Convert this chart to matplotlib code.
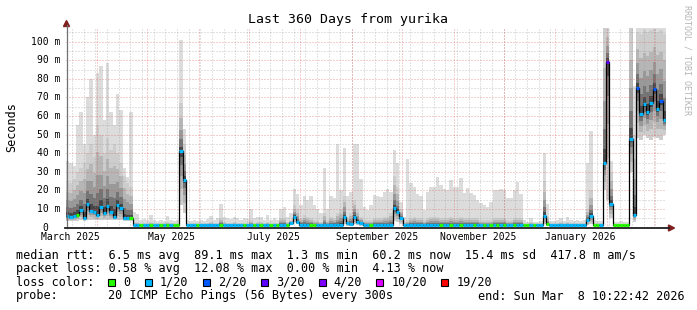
#!/usr/bin/env python3
"""
SmokePing style "Last 360 Days" latency chart, redrawn with matplotlib.
Smoke = ping spread per 2-day bin, median coloured by packet loss.
"""

import numpy as np
import matplotlib

matplotlib.use("Agg")
import matplotlib.pyplot as plt
from matplotlib.lines import Line2D
from matplotlib.patches import Polygon, Rectangle

W, H = 697, 310
MONO = "DejaVu Sans Mono"

START = np.datetime64("2025-03-13T10:22:42")
END = np.datetime64("2026-03-08T10:22:42")
SPAN_DAYS = 360
BIN_DAYS = 2
Y_TOP = 107.5

# ---- data, one value per 2-day bin (ms) ----
MEDIAN = [
    # mid March - mid April: noisy period
    6.3, 6.0, 6.3, 7.0, 9.5, 5.3, 12.7, 9.2, 8.7, 6.8, 11.0, 7.8, 11.7, 8.2, 6.0, 12.2, 10.4, 5.0, 5.0, 5.0,
    1.4, 1.4, 1.3, 1.4, 1.4, 1.3, 1.4, 1.4, 1.3, 1.4, 1.4, 1.4, 1.3, 1.3,
    41.0, 25.6,
    1.4, 1.4, 1.4, 1.3, 1.4, 1.4, 1.4, 1.4, 1.4, 1.4, 1.5, 1.4, 1.4, 1.4, 1.4, 1.4, 1.4,
    1.3, 1.4, 1.4, 1.4, 1.4, 1.4, 1.4, 1.4, 1.4, 1.3, 1.4, 1.4, 1.4, 1.4, 2.5, 6.0, 3.0,
    1.4, 1.4, 1.4, 1.4, 1.4, 1.4, 1.4, 1.4, 1.4, 1.4, 1.4, 1.4, 1.4, 5.9, 2.5, 2.0, 5.9, 3.2, 2.4, 1.5,
    1.4, 1.4, 1.4, 1.4, 1.4, 1.4, 1.4, 1.4, 10.4, 8.5, 5.4, 1.4, 1.4, 1.4,
    1.4, 1.4, 1.4, 1.4, 1.4, 1.4, 1.4, 1.4, 1.4, 1.4, 1.4, 1.4, 1.4, 1.4, 1.4, 1.4, 1.4, 1.4, 1.4, 1.4,
    1.4, 1.4, 1.4, 1.4, 1.4, 1.4, 1.4, 1.4, 1.4, 1.4, 1.4, 1.4, 1.4, 1.4, 1.4, 1.4, 1.4, 1.4, 1.4,
    6.4, 2.0,
    1.4, 1.4, 1.4, 1.4, 1.4, 1.4, 1.4, 1.4, 1.4, 1.4, 1.4,
    4.0, 6.3, 1.4, 1.4, 1.4,
    35.0, 89.2, 13.0,
    1.4, 1.4, 1.4, 1.4, 1.4,
    47.7, 6.6,
    75.0, 61.0, 66.5, 62.0, 67.0, 74.3, 64.0, 68.0, 58.0,
]

# index into LOSS_COLORS (0 = no loss, 1 = 1/20, ...)
LOSS = [
    1, 1, 1, 0, 1, 1, 1, 1, 1, 1, 1, 1, 1, 1, 1, 1, 1, 1, 1, 0,
    1, 1, 0, 1, 1, 0, 1, 1, 0, 1, 0, 1, 0, 0,
    1, 1,
    1, 1, 1, 0, 1, 1, 1, 1, 1, 1, 0, 1, 1, 1, 1, 1, 1,
    0, 1, 1, 0, 1, 0, 1, 1, 0, 1, 0, 1, 1, 0, 1, 1, 1,
    1, 1, 1, 0, 0, 1, 1, 1, 1, 1, 1, 1, 1, 1, 1, 1, 1, 1, 1, 1,
    1, 0, 1, 1, 1, 1, 1, 1, 1, 1, 1, 1, 1, 1,
    1, 1, 1, 1, 1, 1, 1, 1, 0, 1, 1, 0, 1, 1, 0, 1, 1, 1, 0, 1,
    1, 0, 1, 0, 1, 0, 1, 0, 1, 1, 0, 1, 1, 0, 0, 1, 0, 1, 1,
    1, 0,
    1, 1, 1, 1, 1, 1, 1, 1, 1, 1, 1,
    1, 1, 0, 0, 1,
    1, 3, 1,
    0, 0, 0, 0, 0,
    1, 1,
    2, 1, 1, 1, 1, 2, 1, 2, 1,
]

# slowest ping per bin (outer, light smoke)
PING_MAX = [
    36, 35, 33, 55, 62, 45, 70, 80, 50, 83, 87, 58, 88.5, 62, 55, 72, 63, 32, 27, 62,
    8.5, 7.5, 4, 4.5, 4, 7, 4, 3.5, 4, 3.5, 6.5, 4, 3.5, 4,
    101, 53,
    4, 3.5, 4, 3.5, 4, 3.5, 4.5, 6.5, 4, 5, 13, 6, 5, 4.5, 6, 5, 4,
    5, 4.5, 10, 5, 5.7, 5.7, 4, 6.8, 4, 5, 4, 10, 11, 6, 8, 21, 18,
    12, 17, 15, 17, 12, 10, 8, 32, 10, 17, 16, 45, 20, 43, 17, 19, 45, 45, 26, 11,
    9.5, 12, 17.5, 17, 16.7, 19.4, 21, 19, 42, 35, 14, 6, 37, 24,
    22, 18, 17, 9.7, 19, 21.7, 22, 27.4, 23, 21, 20, 25.6, 22, 22, 26.5, 18.5, 21.2, 18.5, 17.6, 15,
    13.1, 12.2, 11.3, 14, 20.3, 20.3, 21, 20.3, 15.8, 15.8, 20, 24.7, 18.3, 4, 3, 5, 3, 3, 3.5,
    40, 13,
    3.5, 3.5, 4, 5, 3.5, 5.7, 4, 3.5, 4, 3.5, 4,
    35, 52, 4, 3.5, 3.5,
    108, 108, 36,
    3, 3, 3.5, 3, 3,
    108, 76,
    108, 108, 108, 108, 108, 108, 108, 108, 108,
]

# upper edge of the dense part of the smoke
PING_UPPER = [
    25, 24, 26, 30, 32, 35, 40, 45, 38, 55, 50, 40, 48, 42, 45, 40, 35, 28, 24, 22,
    3, 3, 2.5, 2.5, 2.5, 3, 2.5, 2.5, 2.5, 2.5, 3, 2.5, 2.5, 2.5,
    67, 45,
    2.5, 2.5, 2.5, 2.5, 2.5, 2.5, 2.5, 3, 2.5, 2.5, 5, 3, 2.5, 2.5, 3, 2.5, 2.5,
    2.5, 2.5, 4, 2.5, 3, 3, 2.5, 3, 2.5, 2.5, 2.5, 5, 5, 3, 4, 12, 10,
    5, 7, 6, 5, 4, 4, 3, 8, 4, 6, 5, 8, 10, 17, 5, 8, 15, 10, 6, 4,
    4, 4, 5, 5, 5, 6, 6, 8, 28, 22, 10, 3, 4, 5,
    6, 5, 5, 4, 5, 6, 6, 6, 5, 5, 5, 6, 5, 5, 6, 5, 5, 5, 5, 5,
    4, 4, 4, 4, 5, 5, 5, 5, 4, 4, 5, 5, 5, 2.5, 2.5, 3, 2.5, 2.5, 2.5,
    25, 6,
    2.5, 2.5, 2.5, 3, 2.5, 3, 2.5, 2.5, 2.5, 2.5, 2.5,
    10, 20, 2.5, 2.5, 2.5,
    108, 108, 30,
    2, 2, 2, 2, 2,
    108, 50,
    105, 104, 106, 105, 106, 107, 105, 106, 104,
]

# fastest ping per bin (lower smoke edge)
PING_MIN = [
    3.5, 3.5, 3.5, 3.5, 4, 3.5, 4, 4, 4, 4, 4, 4, 4, 4, 4, 4, 4, 3.5, 3.5, 3.5,
    1, 1, 1, 1, 1, 1, 1, 1, 1, 1, 1, 1, 1, 1,
    12, 8,
    1, 1, 1, 1, 1, 1, 1, 1, 1, 1, 1, 1, 1, 1, 1, 1, 1,
    1, 1, 1, 1, 1, 1, 1, 1, 1, 1, 1, 1, 1, 1, 1.5, 3, 2,
    1, 1, 1, 1, 1, 1, 1, 1, 1, 1, 1, 1, 1, 2, 1, 1, 2, 1.5, 1, 1,
    1, 1, 1, 1, 1, 1, 1, 1, 3.5, 3, 2, 1, 1, 1,
    1, 1, 1, 1, 1, 1, 1, 1, 1, 1, 1, 1, 1, 1, 1, 1, 1, 1, 1, 1,
    1, 1, 1, 1, 1, 1, 1, 1, 1, 1, 1, 1, 1, 1, 1, 1, 1, 1, 1,
    2, 1,
    1, 1, 1, 1, 1, 1, 1, 1, 1, 1, 1,
    1.5, 2, 1, 1, 1,
    20, 15, 5,
    1, 1, 1, 1, 1,
    30, 3,
    48, 47, 50, 48, 47, 49, 48, 47, 50,
]

RTT_STATS = ["6.5 ms avg", "89.1 ms max", "1.3 ms min", "60.2 ms now", "15.4 ms sd", "417.8 m am/s"]
LOSS_STATS = ["0.58 % avg", "12.08 % max", "0.00 % min", "4.13 % now"]
LOSS_LABELS = ["0", "1/20", "2/20", "3/20", "4/20", "10/20", "19/20"]
LOSS_COLORS = ["#26ff00", "#00b8ff", "#0059ff", "#5e00ff", "#7e00ff", "#dd00ff", "#ff0000"]
PROBE_TEXT = "20 ICMP Echo Pings (56 Bytes) every 300s"
END_TEXT = "end: Sun Mar  8 10:22:42 2026"

Y_MAJOR = list(range(0, 101, 10))


def day_of(date):
    """Days between graph start and a date."""
    return (np.datetime64(date) - START) / np.timedelta64(1, "D")


def fpx(x, y):
    """Image pixel (top-left origin) -> figure fraction."""
    return x / W, 1 - y / H


def main() -> None:
    med = np.array(MEDIAN, dtype=float)
    hi = np.array(PING_MAX, dtype=float)
    up = np.array(PING_UPPER, dtype=float)
    lo = np.array(PING_MIN, dtype=float)
    n = len(med)
    assert n == len(hi) == len(up) == len(lo) == len(LOSS) == SPAN_DAYS // BIN_DAYS

    edges = np.arange(n + 1) * BIN_DAYS

    def ext(a):
        return np.append(a, a[-1])

    fig = plt.figure(figsize=(W / 100, H / 100), dpi=100)
    fig.patch.set_facecolor("white")
    ax = fig.add_axes([66 / W, 1 - 227.7 / H, 600 / W, 200 / H])
    ax.set_xlim(0, SPAN_DAYS)
    ax.set_ylim(0, Y_TOP)
    ax.axis("off")

    # smoke: outer light layer, then darker layers towards the median
    ax.fill_between(edges, ext(lo), ext(hi), step="post", color="#dcdcdc", lw=0, zorder=1)
    layers = [(1.0, "#cdcdcd"), (0.7, "#b6b6b6"), (0.45, "#999999"), (0.25, "#747474"), (0.1, "#464646")]
    for frac, col in layers:
        lower = med - (med - lo) * frac
        upper = np.maximum(med + (up - med) * frac, med)
        ax.fill_between(edges, ext(lower), ext(upper), step="post", color=col, lw=0, zorder=1)

    # grid (rrdtool draws it over the graph, semi transparent)
    dots = (0, (1, 2))
    minor_col = (0.56, 0.56, 0.56, 0.5)
    major_col = (0.87, 0.31, 0.31, 0.55)
    for v in np.arange(5, Y_TOP, 5):
        ax.axhline(v, color=major_col if v % 10 == 0 else minor_col, lw=0.72, ls=dots, zorder=2)
    mondays = np.arange(np.datetime64("2025-03-17"), END, np.timedelta64(7, "D"))
    for d in mondays:
        ax.axvline(day_of(d), color=minor_col, lw=0.72, ls=dots, zorder=2)
    month_starts = np.arange(np.datetime64("2025-04"), np.datetime64("2026-04"), np.timedelta64(1, "M"))
    for m in month_starts:
        ax.axvline(day_of(m.astype("datetime64[D]")), color=major_col, lw=0.72, ls=dots, zorder=2)

    # median: black connector + loss coloured steps
    ax.step(edges, ext(med), where="post", color="black", lw=0.9, zorder=3)
    ax.hlines(med, edges[:-1], edges[1:], colors=[LOSS_COLORS[c] for c in LOSS], lw=2.3, zorder=4)

    # x labels, centred half a month after month start
    label_months = np.arange(np.datetime64("2025-03"), np.datetime64("2026-02"), np.timedelta64(2, "M"))
    for m in label_months:
        d = day_of(m.astype("datetime64[D]")) + 15
        txt = m.astype(object).strftime("%B %Y")
        ax.text(d, -9.3 / 200, txt, transform=ax.get_xaxis_transform(), ha="center", va="center",
                family=MONO, fontsize=7)

    # y labels
    ytr = ax.get_yaxis_transform()
    for v in Y_MAJOR:
        if v == 0:
            ax.text((48.5 - 66) / 600, v, "0", transform=ytr, ha="right", va="center", family=MONO, fontsize=7)
        else:
            ax.text((60.5 - 66) / 600, v, f"{v} m", transform=ytr, ha="right", va="center",
                    family=MONO, fontsize=7)

    # axes lines + arrows
    axis_col = (0.12, 0.12, 0.12)
    arrow_col = (0.5, 0.12, 0.12)
    fig.add_artist(Line2D(*zip(fpx(66.5, 228), fpx(66.5, 25)), color="#707070", lw=0.9,
                          transform=fig.transFigure))
    fig.add_artist(Line2D(*zip(fpx(65, 228), fpx(669, 228)), color=axis_col, lw=1.3,
                          transform=fig.transFigure))
    fig.add_artist(Polygon([fpx(66.5, 20.5), fpx(63.5, 26.5), fpx(69.5, 26.5)], closed=True,
                           color=arrow_col, transform=fig.transFigure))
    fig.add_artist(Polygon([fpx(674.5, 228), fpx(668.5, 225), fpx(668.5, 231)], closed=True,
                           color=arrow_col, transform=fig.transFigure))

    # title, axis label, watermark
    fig.text(*fpx(348.5, 19.5), "Last 360 Days from yurika", ha="center", va="center",
             family=MONO, fontsize=9.5)
    fig.text(*fpx(11.5, 127), "Seconds", rotation=90, ha="center", va="center", family=MONO, fontsize=8.5)
    fig.text(*fpx(686.5, 60), "RRDTOOL / TOBI OETIKER", rotation=270, ha="center", va="center",
             family=MONO, fontsize=6, color="#b4b4b4")

    # legend block
    lfs = 8.45
    cw = 7.07
    fig.text(*fpx(16, 255), "median rtt:  " + "  ".join(RTT_STATS), ha="left", va="center",
             family=MONO, fontsize=lfs)
    fig.text(*fpx(16, 268.5), "packet loss: " + "  ".join(LOSS_STATS), ha="left", va="center",
             family=MONO, fontsize=lfs)
    fig.text(*fpx(16, 282), "loss color:", ha="left", va="center", family=MONO, fontsize=lfs)
    x = 108.3
    for lab, col in zip(LOSS_LABELS, LOSS_COLORS):
        fig.add_artist(Rectangle(fpx(x, 285.5), 7 / W, 7 / H, facecolor=col, edgecolor="black",
                                 lw=0.8, transform=fig.transFigure))
        fig.text(*fpx(x + 15, 282), lab, ha="left", va="center", family=MONO, fontsize=lfs)
        x = x + 15 + len(lab) * cw + 14.6
    fig.text(*fpx(16, 296), "probe:", ha="left", va="center", family=MONO, fontsize=lfs)
    fig.text(*fpx(16 + 13 * cw, 296), PROBE_TEXT, ha="left", va="center", family=MONO, fontsize=lfs)
    fig.text(*fpx(478, 296), END_TEXT, ha="left", va="center", family=MONO, fontsize=lfs)

    fig.savefig("out.png", dpi=100, facecolor="white")
    plt.close(fig)


if __name__ == "__main__":
    main()
